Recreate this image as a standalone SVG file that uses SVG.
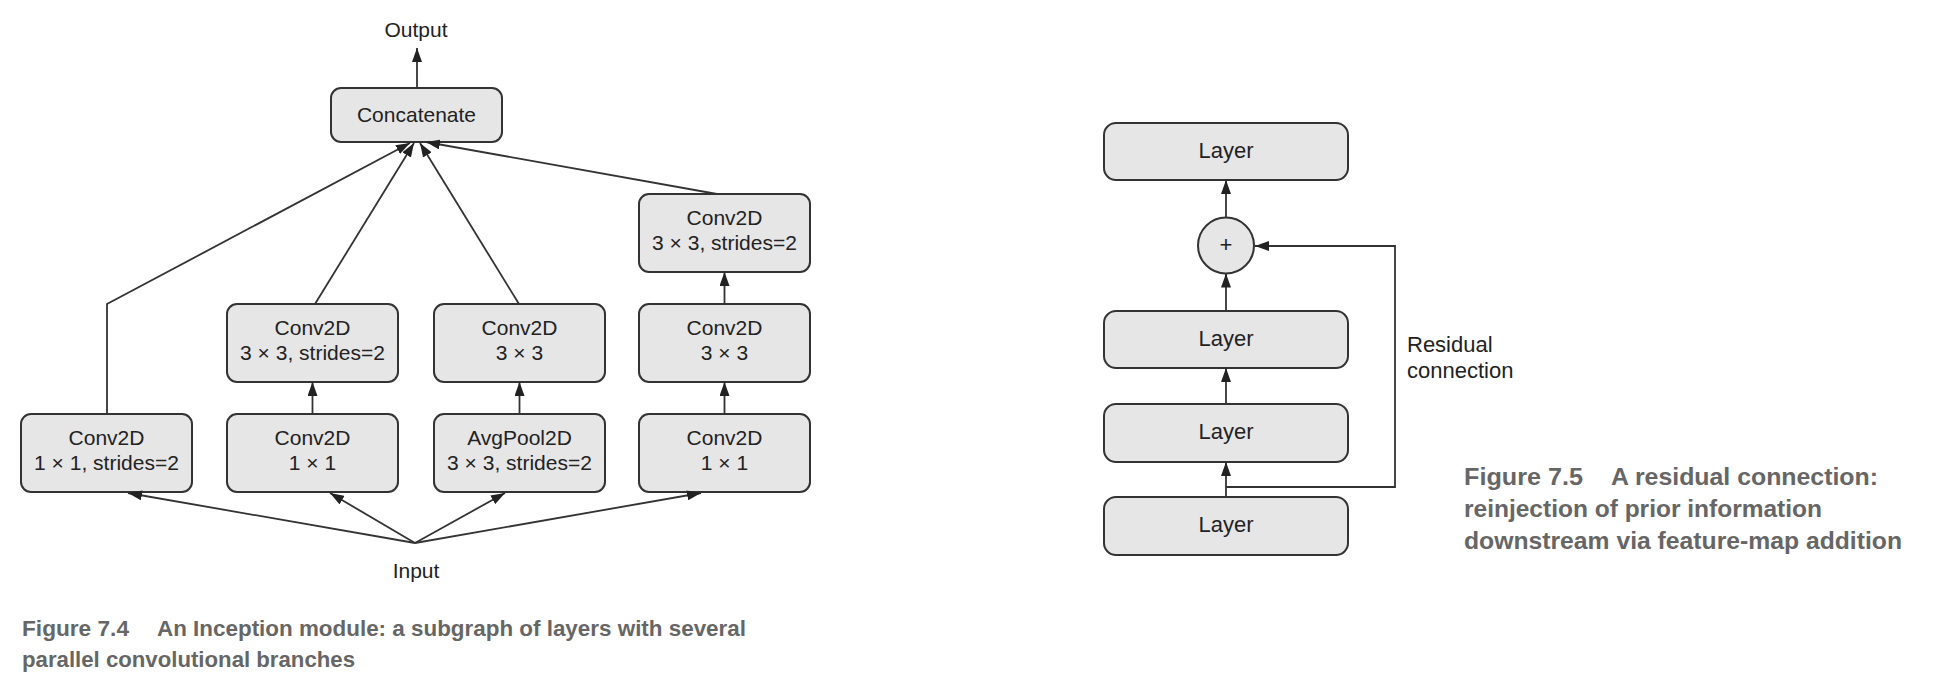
<svg xmlns="http://www.w3.org/2000/svg" width="1934" height="692" viewBox="0 0 1934 692">
<defs>
<style>
.box{fill:#e6e6e6;stroke:#333;stroke-width:2}
.lbl{font-family:"Liberation Sans",Arial,sans-serif;font-size:21px;fill:#222;text-anchor:middle}
.lbl2{font-family:"Liberation Sans",Arial,sans-serif;font-size:22px;fill:#222;text-anchor:middle}
.plain{font-family:"Liberation Sans",Arial,sans-serif;font-size:22px;fill:#222}
.cap{font-family:"Liberation Sans",Arial,sans-serif;font-weight:bold;fill:#666}
.conn{fill:none;stroke:#333;stroke-width:1.8}
</style>
<marker id="arr" viewBox="0 0 14 10" refX="14" refY="5" markerWidth="14" markerHeight="10" markerUnits="userSpaceOnUse" orient="auto">
<path d="M0,0 L14,5 L0,10 z" fill="#222"/>
</marker>
</defs>
<rect width="1934" height="692" fill="#fff"/>

<!-- Figure 7.4 -->
<g id="output"><text class="lbl" x="416" y="37">Output</text></g>
<g id="input"><text class="lbl" x="416" y="578">Input</text></g>
<g id="concat"><rect class="box" x="331" y="88" width="171" height="54" rx="10"/><text class="lbl" x="416.5" y="122">Concatenate</text></g>

<g id="b1"><rect class="box" x="21" y="414" width="171" height="78" rx="10"/><text class="lbl" x="106.5" y="445">Conv2D</text><text class="lbl" x="106.5" y="470">1 × 1, strides=2</text></g>
<g id="b2"><rect class="box" x="227" y="414" width="171" height="78" rx="10"/><text class="lbl" x="312.5" y="445">Conv2D</text><text class="lbl" x="312.5" y="470">1 × 1</text></g>
<g id="b3"><rect class="box" x="434" y="414" width="171" height="78" rx="10"/><text class="lbl" x="519.5" y="445">AvgPool2D</text><text class="lbl" x="519.5" y="470">3 × 3, strides=2</text></g>
<g id="b4"><rect class="box" x="639" y="414" width="171" height="78" rx="10"/><text class="lbl" x="724.5" y="445">Conv2D</text><text class="lbl" x="724.5" y="470">1 × 1</text></g>

<g id="m2"><rect class="box" x="227" y="304" width="171" height="78" rx="10"/><text class="lbl" x="312.5" y="335">Conv2D</text><text class="lbl" x="312.5" y="360">3 × 3, strides=2</text></g>
<g id="m3"><rect class="box" x="434" y="304" width="171" height="78" rx="10"/><text class="lbl" x="519.5" y="335">Conv2D</text><text class="lbl" x="519.5" y="360">3 × 3</text></g>
<g id="m4"><rect class="box" x="639" y="304" width="171" height="78" rx="10"/><text class="lbl" x="724.5" y="335">Conv2D</text><text class="lbl" x="724.5" y="360">3 × 3</text></g>

<g id="t4"><rect class="box" x="639" y="194" width="171" height="78" rx="10"/><text class="lbl" x="724.5" y="225">Conv2D</text><text class="lbl" x="724.5" y="250">3 × 3, strides=2</text></g>

<!-- Figure 7.5 -->
<g id="L1"><rect class="box" x="1104" y="123" width="244" height="57" rx="12"/><text class="lbl2" x="1226" y="157.5">Layer</text></g>
<g id="add"><circle class="box" cx="1226" cy="245.5" r="28"/><text class="lbl2" x="1226" y="252" font-size="18">+</text></g>
<g id="L2"><rect class="box" x="1104" y="311" width="244" height="57" rx="12"/><text class="lbl2" x="1226" y="345.5">Layer</text></g>
<g id="L3"><rect class="box" x="1104" y="404" width="244" height="58" rx="12"/><text class="lbl2" x="1226" y="438.5">Layer</text></g>
<g id="L4"><rect class="box" x="1104" y="497" width="244" height="58" rx="12"/><text class="lbl2" x="1226" y="531.5">Layer</text></g>
<g id="reslabel"><text class="plain" x="1407" y="352">Residual</text><text class="plain" x="1407" y="378">connection</text></g>

<g id="connectors">
<line class="conn" x1="417" y1="88" x2="417" y2="48" marker-end="url(#arr)"/>
<polyline class="conn" points="107,414 107,304 410,143" marker-end="url(#arr)"/>
<line class="conn" x1="315" y1="304" x2="414" y2="143" marker-end="url(#arr)"/>
<line class="conn" x1="519" y1="304" x2="420" y2="143" marker-end="url(#arr)"/>
<line class="conn" x1="717" y1="194" x2="426" y2="142" marker-end="url(#arr)"/>
<line class="conn" x1="312.5" y1="414" x2="312.5" y2="382" marker-end="url(#arr)"/>
<line class="conn" x1="519.5" y1="414" x2="519.5" y2="382" marker-end="url(#arr)"/>
<line class="conn" x1="724.5" y1="414" x2="724.5" y2="382" marker-end="url(#arr)"/>
<line class="conn" x1="724.5" y1="304" x2="724.5" y2="272" marker-end="url(#arr)"/>
<line class="conn" x1="415" y1="543" x2="128" y2="493" marker-end="url(#arr)"/>
<line class="conn" x1="415" y1="543" x2="330" y2="493" marker-end="url(#arr)"/>
<line class="conn" x1="415" y1="543" x2="505" y2="493" marker-end="url(#arr)"/>
<line class="conn" x1="415" y1="543" x2="701" y2="493" marker-end="url(#arr)"/>

<line class="conn" x1="1226" y1="217.5" x2="1226" y2="180" marker-end="url(#arr)"/>
<line class="conn" x1="1226" y1="311" x2="1226" y2="273.5" marker-end="url(#arr)"/>
<line class="conn" x1="1226" y1="404" x2="1226" y2="368" marker-end="url(#arr)"/>
<line class="conn" x1="1226" y1="497" x2="1226" y2="462" marker-end="url(#arr)"/>
<polyline class="conn" points="1226,487 1395,487 1395,246 1255,246" marker-end="url(#arr)"/>
</g>

<g id="caption74" class="cap" font-size="22.5">
<text x="22" y="636" textLength="107" lengthAdjust="spacingAndGlyphs">Figure 7.4</text>
<text x="157" y="636" textLength="589" lengthAdjust="spacingAndGlyphs">An Inception module: a subgraph of layers with several</text>
<text x="22" y="667" textLength="333" lengthAdjust="spacingAndGlyphs">parallel convolutional branches</text>
</g>
<g id="caption75" class="cap" font-size="24.5">
<text x="1464" y="485" textLength="119" lengthAdjust="spacingAndGlyphs">Figure 7.5</text>
<text x="1611" y="485" textLength="267" lengthAdjust="spacingAndGlyphs">A residual connection:</text>
<text x="1464" y="517" textLength="358" lengthAdjust="spacingAndGlyphs">reinjection of prior information</text>
<text x="1464" y="549" textLength="438" lengthAdjust="spacingAndGlyphs">downstream via feature-map addition</text>
</g>
</svg>
